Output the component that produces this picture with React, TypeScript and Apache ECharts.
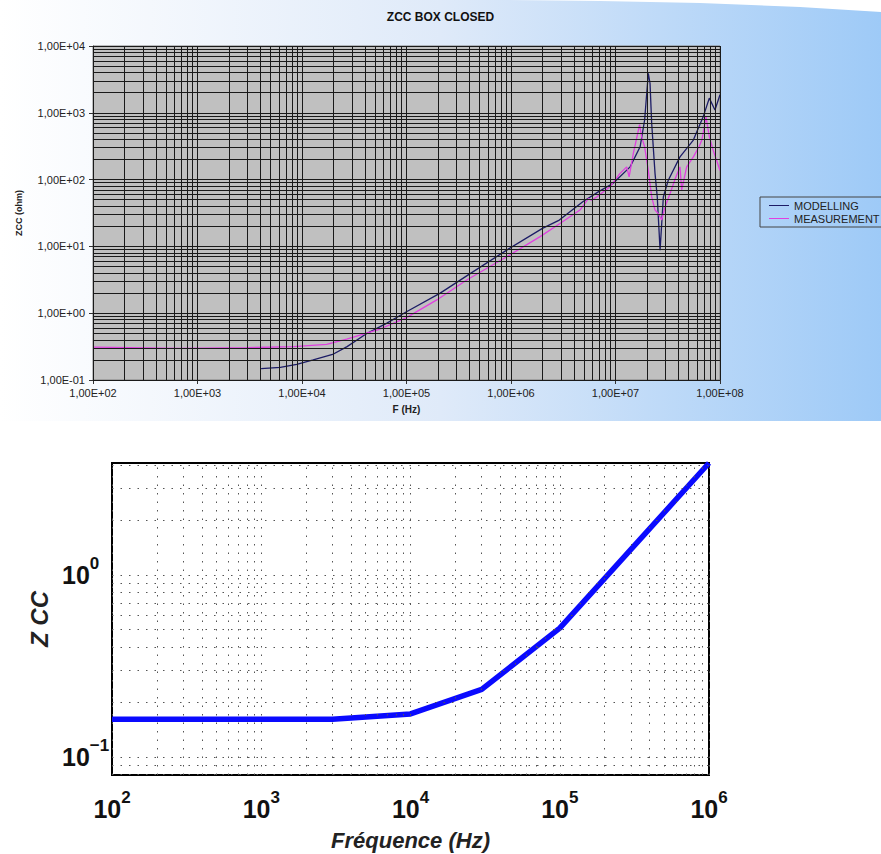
import React, { useEffect, useRef } from 'react';
import * as echarts from 'echarts';

// ---------- Top chart (Excel) ----------
const chartTitle = 'ZCC BOX CLOSED';
const legendNames = ['MODELLING', 'MEASUREMENT'];

const modelFreq = [4.06e3, 6.2e3, 8.9e3, 1.28e4, 2.0e4, 2.7e4, 4.2e4, 6.5e4, 1.0e5, 2.1e5, 4.1e5, 9.1e5, 2.0e6, 2.9e6, 4.9e6, 6.9e6, 9.5e6, 1.38e7, 1.72e7, 1.9e7, 2.06e7, 2.14e7, 2.22e7, 2.39e7, 2.51e7, 2.67e7, 2.87e7, 3.2e7, 4.14e7, 5.56e7, 6.9e7, 7.9e7, 8.95e7, 1.0e8];
const modelZ = [0.148, 0.155, 0.172, 0.2, 0.245, 0.316, 0.5, 0.71, 1.05, 2.0, 3.95, 8.8, 18.6, 24.8, 47, 66, 88, 155, 310, 780, 3900, 2770, 690, 123, 55, 8.8, 55, 98, 219, 390, 870, 1660, 1100, 1860];

const measFreq = [100, 226, 681, 2950, 8300, 1.72e4, 2.68e4, 5.57e4, 1.0e5, 1.95e5, 3.77e5, 9.1e5, 1.9e6, 2.94e6, 4.57e6, 5.5e6, 5.9e6, 6.6e6, 8.85e6, 1.1e7, 1.28e7, 1.35e7, 1.48e7, 1.7e7, 1.78e7, 1.9e7, 2.06e7, 2.22e7, 2.39e7, 2.57e7, 2.77e7, 2.98e7, 3.33e7, 3.7e7, 4.14e7, 4.3e7, 4.8e7, 5.56e7, 6.3e7, 6.7e7, 7.35e7, 7.9e7, 8.6e7, 1.0e8];
const measZ = [0.31, 0.305, 0.298, 0.305, 0.316, 0.342, 0.41, 0.58, 0.86, 1.58, 3.14, 7.0, 14, 22, 35, 52, 49, 55, 78, 123, 155, 110, 245, 665, 436, 310, 137, 55, 35, 31, 25, 39, 62, 100, 155, 70, 155, 219, 310, 390, 870, 440, 276, 137];

const topXRange = [1e2, 1e8];
const topYRange = [1e-1, 1e4];

// ---------- Bottom chart (MATLAB) ----------
const zccFreq = [100, 3000, 1e4, 3e4, 1e5, 1e6];
const zccVal = [0.161, 0.161, 0.172, 0.235, 0.51, 4.13];
const botXRange = [1e2, 1e6];
const botYRange = [0.0794, 4.13];
const botXName = 'Fréquence (Hz)';
const botYName = 'Z CC';

function logGridValues(lo: number, hi: number): number[] {
  const out: number[] = [];
  const e0 = Math.floor(Math.log10(lo));
  const e1 = Math.ceil(Math.log10(hi));
  for (let e = e0; e <= e1; e++) {
    for (let m = 1; m <= 9; m++) {
      const v = m * Math.pow(10, e);
      if (v >= lo * 0.9999 && v <= hi * 1.0001) out.push(v);
    }
  }
  return out;
}

const sci = (v: number) => {
  const e = Math.round(Math.log10(v));
  const s = e < 0 ? '-' : '+';
  return '1,00E' + s + String(Math.abs(e)).padStart(2, '0');
};

const powLabel = (v: number) => {
  const l = Math.log10(v);
  const e = Math.round(l);
  if (Math.abs(l - e) > 1e-6) return '';
  const es = e < 0 ? '\u2212' + Math.abs(e) : String(e);
  return `{b|10}{s|${es}}`;
};

const richPow = {
  b: { fontSize: 25, fontWeight: 'bold', fontFamily: 'Liberation Sans', color: '#111', lineHeight: 40 },
  s: { fontSize: 17, fontWeight: 'bold', fontFamily: 'Liberation Sans', color: '#111', verticalAlign: 'top', lineHeight: 18 },
};

export default function App() {
  const ref = useRef<HTMLDivElement>(null);
  useEffect(() => {
    if (!ref.current) return;
    const chart = echarts.init(ref.current, undefined, { renderer: 'svg' });
    const font = 'Liberation Sans';
    const option: any = {
      animation: false,
      backgroundColor: '#ffffff',
      title: {
        text: chartTitle,
        left: 'center',
        top: 6,
        textStyle: { fontSize: 12, fontWeight: 'bold', color: '#111', fontFamily: font },
      },
      legend: {
        data: legendNames,
        orient: 'vertical',
        left: 760,
        top: 197,
        icon: 'rect',
        itemWidth: 20,
        itemHeight: 1,
        itemGap: 2,
        padding: [3, 4, 3, 9],
        borderColor: '#444',
        borderWidth: 1,
        textStyle: { fontSize: 11, color: '#222', fontFamily: font },
      },
      graphic: [
        {
          type: 'rect',
          z: -10,
          shape: { x: 0, y: 0, width: 881, height: 421 },
          style: {
            fill: new echarts.graphic.LinearGradient(0, 0, 1, 0, [
              { offset: 0, color: '#ffffff' },
              { offset: 0.5, color: '#dfeaf9' },
              { offset: 1, color: '#9ecaf7' },
            ]),
          },
          silent: true,
        },
        {
          type: 'polygon',
          z: -9,
          shape: { points: [[500, 0], [881, 0], [881, 12], [800, 7], [700, 3], [600, 1]] },
          style: { fill: '#ffffff' },
          silent: true,
        },
      ],
      grid: [
        { left: 93, top: 46, width: 627, height: 334, show: true, backgroundColor: '#c0c0c0', borderColor: '#808080', borderWidth: 1 },
        { left: 112, top: 463, width: 597, height: 312, show: true, backgroundColor: '#ffffff', borderColor: '#000', borderWidth: 2 },
      ],
      xAxis: [
        {
          type: 'log', logBase: 10, gridIndex: 0, min: topXRange[0], max: topXRange[1],
          axisLine: { show: true, lineStyle: { color: '#333' } },
          axisTick: { show: true, length: 4, lineStyle: { color: '#333' } },
          axisLabel: { formatter: sci, fontSize: 11, color: '#222', margin: 7, fontFamily: font, showMinLabel: true, showMaxLabel: true },
          splitLine: { show: false },
          name: 'F (Hz)', nameLocation: 'middle', nameGap: 24,
          nameTextStyle: { fontWeight: 'bold', fontSize: 10, color: '#222', fontFamily: font },
        },
        {
          type: 'log', logBase: 10, gridIndex: 1, min: botXRange[0], max: botXRange[1],
          axisLine: { show: false },
          axisTick: { show: false },
          axisLabel: { formatter: powLabel, rich: richPow, margin: 14, showMinLabel: true, showMaxLabel: true },
          splitLine: { show: false },
          name: botXName, nameLocation: 'middle', nameGap: 54,
          nameTextStyle: { fontWeight: 'bold', fontStyle: 'italic', fontSize: 22, color: '#222', fontFamily: font },
        },
      ],
      yAxis: [
        {
          type: 'log', logBase: 10, gridIndex: 0, min: topYRange[0], max: topYRange[1],
          axisLine: { show: true, lineStyle: { color: '#333' } },
          axisTick: { show: true, length: 4, lineStyle: { color: '#333' } },
          axisLabel: { formatter: sci, fontSize: 11, color: '#222', margin: 8, fontFamily: font },
          splitLine: { show: false },
          name: 'ZCC (ohm)', nameLocation: 'middle', nameGap: 70,
          nameTextStyle: { fontWeight: 'bold', fontSize: 9, color: '#222', fontFamily: font },
        },
        {
          type: 'log', logBase: 10, gridIndex: 1, min: botYRange[0], max: botYRange[1],
          axisLine: { show: false },
          axisTick: { show: false },
          axisLabel: { formatter: powLabel, rich: richPow, margin: 50, align: 'left' },
          splitLine: { show: false },
          name: botYName, nameLocation: 'middle', nameGap: 48,
          nameTextStyle: { fontWeight: 'bold', fontStyle: 'italic', fontSize: 24, color: '#222', fontFamily: font },
        },
      ],
      series: [
        {
          name: 'gridTop', type: 'line', xAxisIndex: 0, yAxisIndex: 0, data: [], silent: true, z: 1,
          markLine: {
            silent: true, symbol: 'none', label: { show: false }, animation: false,
            lineStyle: { color: '#1a1a1a', width: 1, type: 'solid' },
            data: [
              ...logGridValues(topXRange[0], topXRange[1]).map((v) => ({ xAxis: v })),
              ...logGridValues(topYRange[0], topYRange[1]).map((v) => ({ yAxis: v })),
            ],
          },
        },
        {
          name: legendNames[0], type: 'line', xAxisIndex: 0, yAxisIndex: 0, z: 3,
          data: modelFreq.map((f, i) => [f, modelZ[i]]),
          symbol: 'none', itemStyle: { color: '#1c1c66' },
          lineStyle: { color: '#1c1c66', width: 1.3 },
        },
        {
          name: legendNames[1], type: 'line', xAxisIndex: 0, yAxisIndex: 0, z: 3,
          data: measFreq.map((f, i) => [f, measZ[i]]),
          symbol: 'none', itemStyle: { color: '#e040e0' },
          lineStyle: { color: '#e040e0', width: 1.3 },
        },
        {
          name: 'gridBot', type: 'line', xAxisIndex: 1, yAxisIndex: 1, data: [], silent: true, z: 1,
          markLine: {
            silent: true, symbol: 'none', label: { show: false }, animation: false,
            lineStyle: { color: '#555', width: 1, type: [1.5, 7] },
            data: [
              ...logGridValues(botXRange[0], botXRange[1]).map((v) => ({ xAxis: v })),
              ...logGridValues(botYRange[0], botYRange[1]).map((v) => ({ yAxis: v })),
            ],
          },
        },
        {
          name: 'ZCC', type: 'line', xAxisIndex: 1, yAxisIndex: 1, z: 3,
          data: zccFreq.map((f, i) => [f, zccVal[i]]),
          symbol: 'none', itemStyle: { color: '#0000ff' },
          lineStyle: { color: '#0a0aff', width: 5.5 },
        },
      ],
    };
    chart.setOption(option);
    return () => chart.dispose();
  }, []);
  return <div ref={ref} style={{ position: 'fixed', left: 0, top: 0, width: 881, height: 854 }} />;
}
